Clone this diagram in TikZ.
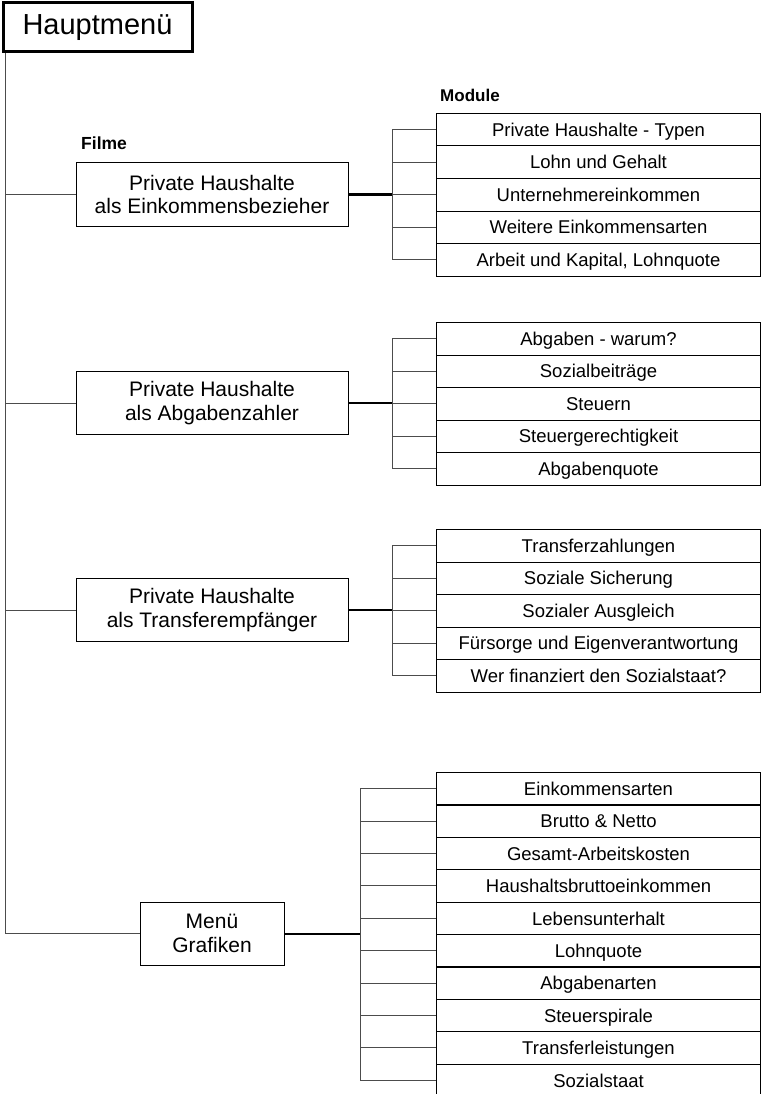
\documentclass[tikz,border=0pt]{standalone}
\usepackage{fontspec}
\setmainfont{Liberation Sans}
\begin{document}
\begin{tikzpicture}[x=1pt,y=-1pt,
  modbox/.style={draw, line width=1pt, minimum width=324pt, minimum height=32.5pt,
    inner sep=0pt, text height=13.3pt, text depth=0pt, anchor=north west,
    font=\fontsize{18.5}{20}\selectfont},
  filmbox/.style={draw, line width=1pt, minimum width=272pt, minimum height=63pt,
    inner sep=0pt, align=center, font=\fontsize{21}{23.5}\selectfont},
  conn/.style={line width=1pt, black!70},
  boldconn/.style={line width=2pt, black},
  headlabel/.style={inner sep=0pt, anchor=base west, font=\bfseries\fontsize{17.5}{20}\selectfont}
]
\clip (0,0) rectangle (764,1094);
\fill[white] (0,0) rectangle (764,1094);

\node[draw, line width=3pt, minimum width=189pt, minimum height=49pt, inner sep=0pt,
  font=\fontsize{29}{32}\selectfont] (hm) at (97.5,27.5) {Hauptmenü};

\node[headlabel] (filme) at (81,150) {Filme};
\node[headlabel, font=\bfseries\fontsize{17}{20}\selectfont] (module) at (440,101.5) {Module};

% main boxes
\node[filmbox] (f1) at (212,194.5) {Private Haushalte\\als Einkommensbezieher};
\node[filmbox] (f2) at (212,403) {Private Haushalte\\als Abgabenzahler};
\node[filmbox] (f3) at (212,610) {Private Haushalte\\als Transferempfänger};
\node[filmbox, minimum width=144pt] (f4) at (212,933.5) {Menü\\Grafiken};

% modules group 1
\foreach \t [count=\i from 0] in {Private Haushalte - Typen, Lohn und Gehalt, Unternehmereinkommen, Weitere Einkommensarten, {Arbeit und Kapital, Lohnquote}}
  \node[modbox] (a\i) at (436,113+32.5*\i) {\t};
% group 2
\foreach \t [count=\i from 0] in {Abgaben - warum?, Sozialbeiträge, Steuern, Steuergerechtigkeit, Abgabenquote}
  \node[modbox] (b\i) at (436,322+32.5*\i) {\t};
% group 3
\foreach \t [count=\i from 0] in {Transferzahlungen, Soziale Sicherung, Sozialer Ausgleich, Fürsorge und Eigenverantwortung, Wer finanziert den Sozialstaat?}
  \node[modbox] (c\i) at (436,529+32.5*\i) {\t};
% group 4
\foreach \t [count=\i from 0] in {Einkommensarten, Brutto \& Netto, Gesamt-Arbeitskosten, Haushaltsbruttoeinkommen, Lebensunterhalt, Lohnquote, Abgabenarten, Steuerspirale, Transferleistungen, Sozialstaat}
  \node[modbox] (d\i) at (436,772+32.4*\i) {\t};

% trunk
\coordinate (trunk) at (5,0);
\draw[conn] (hm.south -| trunk) |- (f4.west);
\foreach \f in {f1,f2,f3}
  \draw[conn] (trunk |- \f.west) -- (\f.west);

% brackets
\coordinate (ba) at (392,0);
\coordinate (bd) at (360,0);
\draw[conn] (ba |- a0.west) -- (ba |- a4.west);
\draw[conn] (ba |- b0.west) -- (ba |- b4.west);
\draw[conn] (ba |- c0.west) -- (ba |- c4.west);
\draw[conn] (bd |- d0.west) -- (bd |- d9.west);
\foreach \i in {0,...,4} {
  \draw[conn] (ba |- a\i.west) -- (a\i.west);
  \draw[conn] (ba |- b\i.west) -- (b\i.west);
  \draw[conn] (ba |- c\i.west) -- (c\i.west);
}
\foreach \i in {0,...,9}
  \draw[conn] (bd |- d\i.west) -- (d\i.west);

\draw[boldconn] (f1.east) -- (f1.east -| ba);
\draw[boldconn] (f2.east) -- (f2.east -| ba);
\draw[boldconn] (f3.east) -- (f3.east -| ba);
\draw[boldconn] (f4.east) -- (f4.east -| bd);
\end{tikzpicture}
\end{document}
